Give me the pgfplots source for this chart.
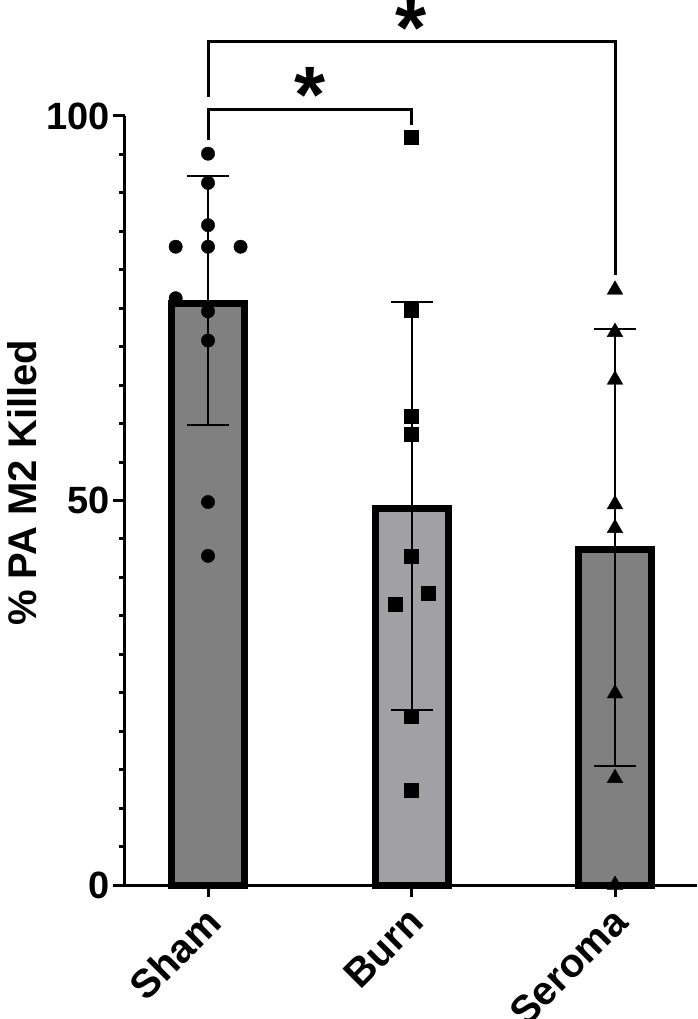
\documentclass[border=0pt]{standalone}
\usepackage{pgfplots}
\pgfplotsset{compat=1.18}
\usepackage{fontspec}
\setmainfont{Liberation Sans}
\definecolor{barA}{HTML}{808080}
\definecolor{barB}{HTML}{A1A0A5}
\begin{document}
\begin{tikzpicture}
\begin{axis}[
  at={(0,0)}, anchor=south west,
  width=572pt, height=769pt, scale only axis,
  xmin=-0.408, xmax=2.403, ymin=0, ymax=100,
  axis x line*=bottom, axis y line*=left,
  axis line style={line width=3pt, black},
  xtick={0,1,2}, xticklabels={Sham,Burn,Seroma},
  ytick={0,50,100}, minor ytick={5,10,...,95},
  tick align=outside, major tick length=12pt, minor tick length=6pt,
  major tick style={line width=3pt, black},
  minor tick style={line width=3pt, black},
  /pgf/number format/assume math mode=true,
  x tick label style={rotate=45, anchor=north east, inner sep=2pt, xshift=-7pt, font=\fontsize{40}{40}\selectfont\bfseries},
  y tick label style={inner sep=3pt, font=\fontsize{38}{38}\selectfont\bfseries},
  ylabel={\% PA M2 Killed},
  every axis y label/.style={at={(axis description cs:-0.18,0.523)}, rotate=90, anchor=center, font=\fontsize{40}{40}\selectfont\bfseries},
  clip=false,
]
\addplot[ybar, bar width=73pt, bar shift=0pt, fill=barA, draw=black, line width=7pt] coordinates {(0,75.6)};
\addplot[ybar, bar width=73pt, bar shift=0pt, fill=barB, draw=black, line width=7pt] coordinates {(1,48.9)};
\addplot[ybar, bar width=73pt, bar shift=0pt, fill=barA, draw=black, line width=7pt] coordinates {(2,43.6)};
\addplot[only marks, mark=*, mark size=6.7pt, black] coordinates {(0,95.1)(0,91.3)(0,85.8)(-0.159,83)(0,83)(0.16,83)(-0.159,76.3)(0,74.6)(0,70.8)(0,49.8)(0,42.8)};
\addplot[only marks, mark=square*, mark size=7pt, black] coordinates {(1,97.2)(1,74.8)(1,60.9)(1,58.6)(1,42.7)(1.083,37.9)(0.919,36.5)(1,22)(1,12.3)};
\addplot[only marks, mark=triangle*, mark size=9pt, black] coordinates {(2,77.4)(2,71.9)(2,65.7)(2,49.5)(2,46.4)(2,24.9)(2,13.9)(2,0)};
\addplot[draw=none, mark=none, error bars/.cd, y dir=both, y explicit,
  error bar style={draw=black, line width=2pt},
  error mark options={rotate=90, draw=black, mark size=21pt, line width=2pt}]
  coordinates {(0,76) +- (0,16.2) (1,49.3) +- (0,26.5) (2,43.9) +- (0,28.4)};
\draw[line width=3pt] (axis cs:0,102.5) -- (axis cs:0,109.65) -- (axis cs:2,109.65) -- (axis cs:2,79.3);
\draw[line width=3pt] (axis cs:0,96.9) -- (axis cs:0,100.9) -- (axis cs:1,100.9) -- (axis cs:1,98.8);
\node[anchor=north, inner sep=0pt, font=\fontsize{80}{80}\selectfont\bfseries] at (axis cs:1,115.1) {*};
\node[anchor=north, inner sep=0pt, font=\fontsize{80}{80}\selectfont\bfseries] at (axis cs:0.5,106.4) {*};
\end{axis}
\pgfresetboundingbox
\path[use as bounding box] (-125pt,-134pt) rectangle (572pt,885pt);
\end{tikzpicture}
\end{document}
